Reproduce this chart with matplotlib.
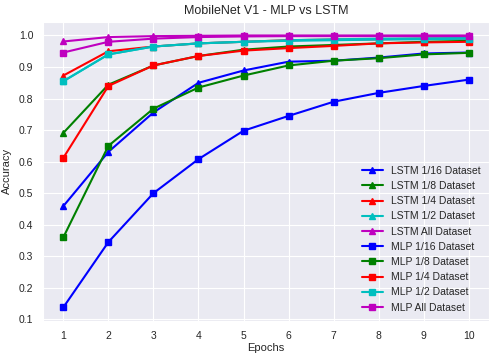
import matplotlib
matplotlib.use("Agg")
from matplotlib import pyplot as plt
import seaborn as sns

sns.set_style("darkgrid")
plt.rcParams['font.family'] = ['Liberation Sans', 'DejaVu Sans']

epochs = [1, 2, 3, 4, 5, 6, 7, 8, 9, 10]

lstm_16 = [0.459, 0.631, 0.756, 0.850, 0.889, 0.917, 0.920, 0.930, 0.943, 0.946]
lstm_8 = [0.691, 0.844, 0.905, 0.935, 0.955, 0.965, 0.970, 0.975, 0.980, 0.983]
lstm_4 = [0.873, 0.950, 0.965, 0.975, 0.980, 0.985, 0.987, 0.988, 0.990, 0.990]
lstm_2 = [0.855, 0.940, 0.965, 0.975, 0.980, 0.985, 0.988, 0.990, 0.991, 0.992]
lstm_all = [0.981, 0.995, 0.998, 0.999, 1.000, 1.000, 1.000, 1.000, 1.000, 1.000]

mlp_16 = [0.138, 0.345, 0.500, 0.608, 0.698, 0.745, 0.790, 0.818, 0.840, 0.860]
mlp_8 = [0.360, 0.650, 0.768, 0.835, 0.873, 0.905, 0.920, 0.928, 0.940, 0.945]
mlp_4 = [0.612, 0.840, 0.905, 0.935, 0.952, 0.960, 0.967, 0.975, 0.978, 0.980]
mlp_2 = [0.855, 0.940, 0.965, 0.975, 0.980, 0.983, 0.985, 0.987, 0.988, 0.990]
mlp_all = [0.946, 0.980, 0.990, 0.995, 0.997, 0.998, 0.998, 0.998, 0.998, 0.998]

fig, ax = plt.subplots(figsize=(4.95, 3.59), dpi=100)

lstm = [(lstm_16, 'b', "LSTM 1/16 Dataset"), (lstm_8, 'g', "LSTM 1/8 Dataset"),
        (lstm_4, 'r', "LSTM 1/4 Dataset"), (lstm_2, 'c', "LSTM 1/2 Dataset"),
        (lstm_all, 'm', "LSTM All Dataset")]
mlp = [(mlp_16, 'b', "MLP 1/16 Dataset"), (mlp_8, 'g', "MLP 1/8 Dataset"),
       (mlp_4, 'r', "MLP 1/4 Dataset"), (mlp_2, 'c', "MLP 1/2 Dataset"),
       (mlp_all, 'm', "MLP All Dataset")]

for vals, c, lab in lstm:
    ax.plot(epochs, vals, color=c, marker='^', markersize=4.5, linewidth=1.5, label=lab)
for vals, c, lab in mlp:
    ax.plot(epochs, vals, color=c, marker='s', markersize=5, linewidth=1.5, label=lab)

ax.set_xticks(epochs)
ax.set_yticks([0.1, 0.2, 0.3, 0.4, 0.5, 0.6, 0.7, 0.8, 0.9, 1.0])
ax.tick_params(labelsize=7.5)
ax.set_xlabel("Epochs", fontsize=8, labelpad=2)
ax.set_ylabel("Accuracy", fontsize=8, labelpad=5)
ax.set_title("MobileNet V1 - MLP vs LSTM", fontsize=9)
ax.legend(loc='lower right', fontsize=7.5, frameon=False, borderaxespad=0.4)

plt.subplots_adjust(left=0.087, right=0.988, top=0.939, bottom=0.106)
plt.savefig("out.png", dpi=100)
